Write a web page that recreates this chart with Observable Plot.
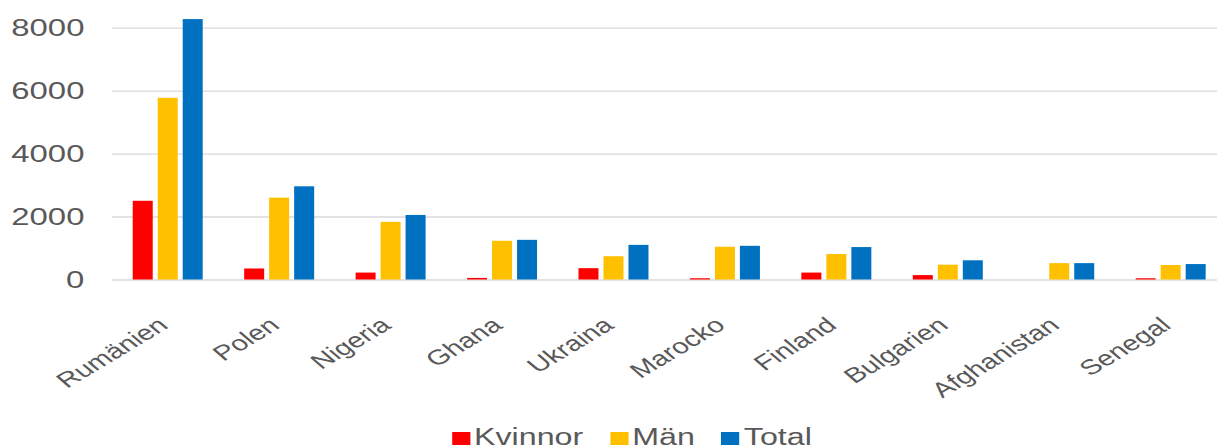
<!DOCTYPE html>
<html><head><meta charset="utf-8">
<script src="https://cdn.jsdelivr.net/npm/d3@7"></script>
<script src="https://cdn.jsdelivr.net/npm/@observablehq/plot@0.6"></script>
<style>
html,body{margin:0;padding:0;background:#fff;overflow:hidden;width:1217px;height:448px;}
#wrap{position:relative;width:900px;height:448px;transform:scaleX(1.4);transform-origin:0 0;font-family:"Liberation Sans",Arial,sans-serif;}
#chart{position:absolute;left:0;top:0;width:900px;}
#chart svg{max-width:none !important;}
#legend{position:absolute;left:322.6px;top:425.5px;font-size:23px;line-height:23px;color:#595959;white-space:nowrap;}
#legend .sw{display:inline-block;width:13px;height:13px;margin-right:3px;}
#legend .it{display:inline-block;margin-right:19px;}
</style></head><body><div id="wrap"><div id="chart"></div><div id="legend"></div></div>
<script>
const countries = ["Rumänien","Polen","Nigeria","Ghana","Ukraina","Marocko","Finland","Bulgarien","Afghanistan","Senegal"];
const seriesNames = ["Kvinnor","Män","Total"];
const seriesColors = ["#FF0000","#FFC000","#0070C0"];
const kvinnor = [2500, 350, 220, 50, 360, 40, 220, 140, 0, 40];
const man     = [5770, 2600, 1830, 1230, 740, 1040, 810, 470, 520, 460];
const total   = [8270, 2960, 2050, 1260, 1100, 1070, 1030, 610, 520, 490];
const yTicks = [0, 2000, 4000, 6000, 8000];

const seriesValues = [kvinnor, man, total];
const rows = [];
countries.forEach((c, i) => {
  seriesNames.forEach((s, j) => rows.push({country: c, series: s, value: seriesValues[j][i]}));
});

const chart = Plot.plot({
  width: 876, height: 410,
  marginLeft: 80, marginRight: 0, marginTop: 15, marginBottom: 130.5,
  style: {fontFamily: '"Liberation Sans", Arial, sans-serif', color: "#595959", background: "transparent", overflow: "visible", maxWidth: "none"},
  fx: {domain: countries, paddingInner: 0.372, paddingOuter: 0.186, round: false, label: null},
  x: {domain: seriesNames, paddingInner: 0.2, paddingOuter: 0, round: false, axis: null},
  y: {domain: [0, 8400]},
  color: {domain: seriesNames, range: seriesColors},
  marks: [
    Plot.ruleY(yTicks, {y: d => d, stroke: "#d9d9d9", strokeWidth: 1.3, insetLeft: -15, insetRight: -15}),
    Plot.barY(rows, {fx: "country", x: "series", y: "value", fill: "series"}),
    Plot.axisY({ticks: yTicks, tickSize: 0, tickPadding: 35, fontSize: 23.5, tickFormat: d3.format("d"), label: null}),
    Plot.axisFx({anchor: "bottom", tickSize: 0, tickPadding: 42, tickRotate: -40, textAnchor: "end", lineAnchor: "middle", dx: -3.5, fontSize: 21, label: null})
  ]
});
document.getElementById("chart").appendChild(chart);

const legend = document.getElementById("legend");
seriesNames.forEach((n, i) => {
  const it = document.createElement("span"); it.className = "it";
  const sw = document.createElement("span"); sw.className = "sw"; sw.style.background = seriesColors[i];
  it.appendChild(sw);
  it.appendChild(document.createTextNode(n));
  legend.appendChild(it);
});
</script>
</body></html>
